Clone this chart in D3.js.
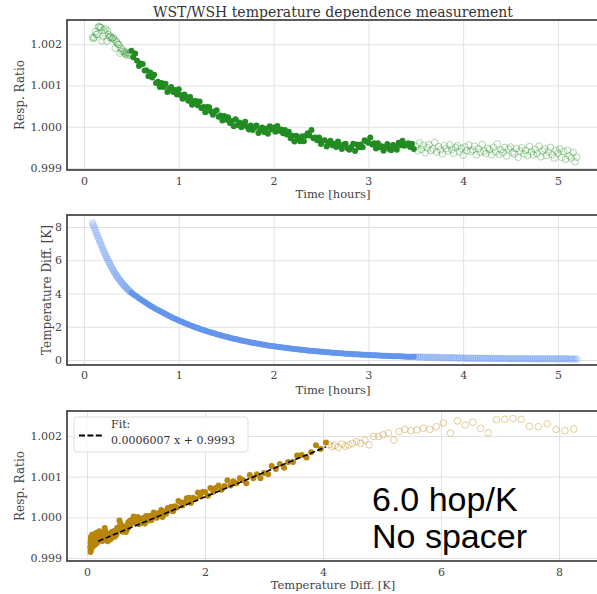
<!DOCTYPE html>
<html>
<head>
<meta charset="utf-8">
<script src="https://cdn.jsdelivr.net/npm/d3@7"></script>
<style>
  body { margin: 0; background: #fff; }
  svg { display: block; }
  text { font-family: "DejaVu Serif", serif; }
</style>
</head>
<body>
<script>

// ---- data ----
// sample times [hours]
var timeHours = [
  0.09,0.10,0.11,0.12,0.13,0.14,0.15,0.16,0.17,0.18,0.19,
  0.20,0.21,0.22,0.23,0.24,0.25,0.26,0.27,0.28,0.29,
  0.30,0.31,0.32,0.33,0.34,0.35,0.36,0.37,0.38,0.39,
  0.40,0.41,0.42,0.43,0.44,0.45,0.46,0.47,0.48,0.49,
  0.50,0.52,0.54,0.56,0.58,0.60,0.62,0.64,0.66,0.68,0.70,0.72,0.74,0.76,0.78,0.80,0.82,0.84,0.86,0.88,0.90,0.92,0.94,0.96,0.98,
  1.00,1.02,1.04,1.06,1.08,1.10,1.12,1.14,1.16,1.18,1.20,1.22,1.24,1.26,1.28,1.30,1.32,1.34,1.36,1.38,1.40,1.42,1.44,1.46,1.48,
  1.50,1.52,1.54,1.56,1.58,1.60,1.62,1.64,1.66,1.68,1.70,1.72,1.74,1.76,1.78,1.80,1.82,1.84,1.86,1.88,1.90,1.92,1.94,1.96,1.98,
  2.00,2.02,2.04,2.06,2.08,2.10,2.12,2.14,2.16,2.18,2.20,2.22,2.24,2.26,2.28,2.30,2.32,2.34,2.36,2.38,2.40,2.42,2.44,2.46,2.48,
  2.50,2.52,2.54,2.56,2.58,2.60,2.62,2.64,2.66,2.68,2.70,2.72,2.74,2.76,2.78,2.80,2.82,2.84,2.86,2.88,2.90,2.92,2.94,2.96,2.98,
  3.00,3.02,3.04,3.06,3.08,3.10,3.12,3.14,3.16,3.18,3.20,3.22,3.24,3.26,3.28,3.30,3.32,3.34,3.36,3.38,3.40,3.42,3.44,3.46,3.48,
  3.50,3.52,3.54,3.56,3.58,3.60,3.62,3.64,3.66,3.68,3.70,3.72,3.74,3.76,3.78,3.80,3.82,3.84,3.86,3.88,3.90,3.92,3.94,3.96,3.98,
  4.00,4.02,4.04,4.06,4.08,4.10,4.12,4.14,4.16,4.18,4.20,4.22,4.24,4.26,4.28,4.30,4.32,4.34,4.36,4.38,4.40,4.42,4.44,4.46,4.48,
  4.50,4.52,4.54,4.56,4.58,4.60,4.62,4.64,4.66,4.68,4.70,4.72,4.74,4.76,4.78,4.80,4.82,4.84,4.86,4.88,4.90,4.92,4.94,4.96,4.98,
  5.00,5.02,5.04,5.06,5.08,5.10,5.12,5.14,5.16,5.18,5.20
];

// WST/WSH response ratio at each sample
var respRatio = [
  1.00217,1.00213,1.00216,1.00230,1.00223,1.00224,1.00241,1.00243,1.00241,1.00240,1.00208,
  1.00219,1.00234,1.00227,1.00237,1.00207,1.00232,1.00223,1.00216,1.00219,1.00215,
  1.00213,1.00216,1.00211,1.00190,1.00207,1.00203,1.00199,1.00199,1.00178,1.00190,
  1.00182,1.00186,1.00182,1.00178,1.00175,1.00180,1.00172,1.00177,1.00174,1.00179,
  1.00184,1.00168,1.00177,1.00160,1.00147,1.00153,1.00152,1.00136,1.00136,1.00122,1.00131,1.00119,1.00126,1.00106,1.00109,1.00096,1.00106,1.00096,1.00104,1.00084,1.00092,1.00096,1.00084,1.00089,1.00078,
  1.00091,1.00077,1.00068,1.00078,1.00072,1.00063,1.00072,1.00053,1.00062,1.00062,1.00052,1.00061,1.00045,1.00048,1.00035,1.00048,1.00047,1.00037,1.00029,1.00037,1.00040,1.00024,1.00027,1.00015,1.00026,
  1.00017,1.00023,1.00009,1.00014,1.00001,1.00018,1.00004,1.00010,0.99999,1.00005,1.00012,1.00000,0.99993,1.00003,0.99992,0.99998,1.00003,0.99985,0.99992,0.99998,0.99987,0.99995,0.99983,1.00001,0.99993,
  0.99998,0.99988,1.00002,0.99990,0.99993,0.99984,0.99992,0.99981,0.99988,0.99972,0.99978,0.99964,0.99978,0.99971,0.99965,0.99977,0.99965,0.99978,0.99984,0.99979,0.99992,0.99972,0.99974,0.99967,0.99974,
  0.99958,0.99966,0.99967,0.99952,0.99960,0.99966,0.99955,0.99959,0.99951,0.99964,0.99954,0.99946,0.99957,0.99959,0.99948,0.99944,0.99951,0.99959,0.99941,0.99957,0.99950,0.99957,0.99950,0.99967,0.99964,
  0.99961,0.99974,0.99957,0.99960,0.99947,0.99960,0.99950,0.99953,0.99942,0.99951,0.99958,0.99946,0.99943,0.99956,0.99953,0.99944,0.99961,0.99955,0.99966,0.99954,0.99957,0.99960,0.99951,0.99959,0.99946,
  0.99953,0.99942,0.99961,0.99945,0.99955,0.99937,0.99949,0.99957,0.99942,0.99946,0.99962,0.99939,0.99952,0.99944,0.99934,0.99954,0.99947,0.99941,0.99956,0.99945,0.99936,0.99950,0.99954,0.99939,0.99948,
  0.99931,0.99951,0.99942,0.99956,0.99940,0.99944,0.99953,0.99932,0.99947,0.99938,0.99957,0.99941,0.99935,0.99948,0.99944,0.99932,0.99950,0.99939,0.99958,0.99933,0.99944,0.99937,0.99950,0.99929,0.99946,
  0.99951,0.99938,0.99934,0.99947,0.99926,0.99941,0.99949,0.99934,0.99943,0.99930,0.99952,0.99939,0.99932,0.99945,0.99935,0.99953,0.99927,0.99941,0.99946,0.99930,0.99939,0.99950,0.99932,0.99924,0.99942,
  0.99936,0.99946,0.99926,0.99940,0.99921,0.99943,0.99929,0.99924,0.99938,0.99915,0.99926
];

// temperature difference [K] at each sample
var tempDiffK = [
  8.25,8.10,7.95,7.80,7.65,7.50,7.36,7.22,7.08,6.94,6.80,
  6.67,6.54,6.41,6.28,6.16,6.04,5.92,5.81,5.70,5.59,
  5.49,5.39,5.29,5.20,5.11,5.02,4.94,4.86,4.78,4.71,
  4.64,4.57,4.50,4.44,4.38,4.32,4.26,4.20,4.15,4.10,
  4.05,3.96,3.88,3.80,3.72,3.64,3.56,3.49,3.41,3.34,3.27,3.20,3.13,3.07,3.00,2.94,2.88,2.82,2.76,2.70,2.64,2.59,2.53,2.48,2.43,
  2.38,2.33,2.28,2.23,2.18,2.14,2.09,2.05,2.00,1.96,1.92,1.88,1.84,1.80,1.76,1.73,1.69,1.66,1.62,1.59,1.55,1.52,1.49,1.46,1.43,
  1.40,1.37,1.34,1.31,1.28,1.26,1.23,1.21,1.18,1.16,1.13,1.11,1.09,1.06,1.04,1.02,1.00,0.98,0.96,0.94,0.92,0.90,0.88,0.86,0.84,
  0.83,0.81,0.79,0.78,0.76,0.75,0.73,0.72,0.70,0.69,0.68,0.66,0.65,0.64,0.62,0.61,0.60,0.59,0.57,0.56,0.55,0.54,0.53,0.52,0.51,
  0.50,0.49,0.48,0.47,0.46,0.45,0.44,0.43,0.42,0.42,0.41,0.40,0.39,0.38,0.38,0.37,0.36,0.35,0.35,0.34,0.33,0.33,0.32,0.31,0.31,
  0.30,0.30,0.29,0.28,0.28,0.27,0.27,0.26,0.26,0.25,0.25,0.24,0.24,0.23,0.23,0.22,0.22,0.22,0.21,0.21,0.20,0.20,0.20,0.19,0.19,
  0.19,0.18,0.18,0.18,0.17,0.17,0.17,0.16,0.16,0.16,0.16,0.15,0.15,0.15,0.14,0.14,0.14,0.14,0.13,0.13,0.13,0.13,0.12,0.12,0.12,
  0.12,0.12,0.11,0.11,0.11,0.11,0.11,0.11,0.10,0.10,0.10,0.10,0.10,0.10,0.10,0.09,0.09,0.09,0.09,0.09,0.09,0.09,0.09,0.09,0.08,
  0.08,0.08,0.08,0.08,0.08,0.08,0.08,0.08,0.08,0.08,0.08,0.07,0.07,0.07,0.07,0.07,0.07,0.07,0.07,0.07,0.07,0.07,0.07,0.07,0.07,
  0.07,0.07,0.07,0.07,0.07,0.07,0.06,0.06,0.06,0.06,0.06
];

// time window whose points were fitted (solid markers)
var fitWindow = [0.5, 3.5];
var fitSlope = 0.0006007,
    fitIntercept = 0.9993;

// tick labels
var timeTicks = [0, 1, 2, 3, 4, 5];
var ratioTicks = [0.999, 1.000, 1.001, 1.002];
var tempTicks = [0, 2, 4, 6, 8];

// ---- drawing ----
var width = 597,
    height = 594;

var svg = d3.select("body").append("svg")
    .attr("width", width)
    .attr("height", height);

var plotLeft = 67,
    plotRight = 601;

var points = timeHours.map(function (t, i) {
    return { t: t, ratio: respRatio[i], temp: tempDiffK[i],
             fit: t >= fitWindow[0] && t < fitWindow[1] };
});

function drawPanel(p) {
    var x = d3.scaleLinear().domain(p.xDomain).range([plotLeft, plotRight]);
    var y = d3.scaleLinear().domain(p.yDomain).range([p.bottom, p.top]);
    var h = p.bottom - p.top;
    var g = svg.append("g");

    // grid + tick labels
    var gx = g.append("g")
        .attr("transform", "translate(0," + p.bottom + ")")
        .call(d3.axisBottom(x).tickValues(p.xTicks).tickFormat(d3.format("d"))
              .tickSize(-h).tickPadding(p.xPad));
    var gy = g.append("g")
        .attr("transform", "translate(" + plotLeft + ",0)")
        .call(d3.axisLeft(y).tickValues(p.yTicks).tickFormat(p.yFormat)
              .tickSize(-(plotRight - plotLeft)).tickPadding(5));
    [gx, gy].forEach(function (a) {
        a.select(".domain").remove();
        a.selectAll(".tick line").attr("stroke", "#e2e2e2").attr("stroke-width", 1);
        a.selectAll(".tick text")
            .style("fill", "#444")
            .style("font-family", "'DejaVu Serif', serif")
            .style("font-size", "11px");
    });

    var solid = p.solid || function (d) { return d.fit; };

    // faded (not fitted) markers first
    g.append("g").selectAll("circle")
        .data(points.filter(function (d) { return !solid(d); }))
        .enter().append("circle")
        .attr("cx", function (d) { return x(d[p.xKey]); })
        .attr("cy", function (d) { return y(d[p.yKey]); })
        .attr("r", p.r + 0.3)
        .style("fill", p.color)
        .style("fill-opacity", p.fadeFill)
        .style("stroke", p.color)
        .style("stroke-opacity", p.fadeOpacity)
        .style("stroke-width", 0.9);

    g.append("g").selectAll("circle")
        .data(points.filter(solid))
        .enter().append("circle")
        .attr("cx", function (d) { return x(d[p.xKey]); })
        .attr("cy", function (d) { return y(d[p.yKey]); })
        .attr("r", p.r)
        .style("fill", p.color);

    // frame
    g.append("rect")
        .attr("x", plotLeft).attr("y", p.top)
        .attr("width", plotRight - plotLeft).attr("height", h)
        .style("fill", "none")
        .style("stroke", "#333")
        .style("stroke-width", 1.6);

    // labels
    g.append("text")
        .attr("x", 333).attr("y", p.xLabelY)
        .attr("text-anchor", "middle")
        .style("font-size", "11.5px").style("fill", "#444")
        .text(p.xLabel);
    g.append("text")
        .attr("transform", "translate(" + p.yLabelX + "," + (p.top + p.bottom) / 2 + ") rotate(-90)")
        .attr("text-anchor", "middle")
        .attr("dy", "0.35em")
        .style("font-size", "12px").style("fill", "#444")
        .text(p.yLabel);

    return { x: x, y: y, g: g };
}

// title
svg.append("text")
    .attr("x", 333).attr("y", 16.5)
    .attr("text-anchor", "middle")
    .style("font-size", "14px").style("fill", "#333")
    .text("WST/WSH temperature dependence measurement");

drawPanel({
    top: 20, bottom: 170, xDomain: [-0.179, 5.454], yDomain: [0.998952, 1.002584],
    xTicks: timeTicks, yTicks: ratioTicks, yFormat: d3.format(".3f"), xPad: 7,
    xKey: "t", yKey: "ratio", color: "#228b22", fadeOpacity: 0.4, fadeFill: 0, r: 3,
    xLabel: "Time [hours]", xLabelY: 197.5, yLabel: "Resp. Ratio", yLabelX: 20
});

drawPanel({
    top: 215, bottom: 365, xDomain: [-0.179, 5.454], yDomain: [-0.3, 8.72],
    xTicks: timeTicks, yTicks: tempTicks, yFormat: d3.format("d"), xPad: 6,
    xKey: "t", yKey: "temp", color: "#6495ed", fadeOpacity: 0.3, fadeFill: 0.18, r: 3,
    xLabel: "Time [hours]", xLabelY: 393.5, yLabel: "Temperature Diff. [K]", yLabelX: 47
});

// bottom panel: only the early, hot part stays faded
var bottom = drawPanel({
    top: 411, bottom: 561, xDomain: [-0.339, 8.712], yDomain: [0.998926, 1.002615],
    xTicks: tempTicks, yTicks: ratioTicks, yFormat: d3.format(".3f"), xPad: 7,
    xKey: "temp", yKey: "ratio", color: "#b8860b", fadeOpacity: 0.45, fadeFill: 0, r: 3,
    solid: function (d) { return d.t >= fitWindow[0]; },
    xLabel: "Temperature Diff. [K]", xLabelY: 589, yLabel: "Resp. Ratio", yLabelX: 20
});

// fit line over the fitted temperature range
var fitRange = d3.extent(points.filter(function (d) { return d.fit; }), function (d) { return d.temp; });
var fitLine = d3.line()
    .x(function (d) { return bottom.x(d); })
    .y(function (d) { return bottom.y(fitSlope * d + fitIntercept); });

bottom.g.append("path")
    .datum(fitRange)
    .attr("d", fitLine)
    .style("fill", "none")
    .style("stroke", "#000")
    .style("stroke-width", 1.6)
    .style("stroke-dasharray", "5.5,2.4");

// legend
var legend = svg.append("g");
legend.append("rect")
    .attr("x", 74).attr("y", 417).attr("width", 174).attr("height", 35)
    .attr("rx", 3)
    .style("fill", "#fff").style("fill-opacity", 0.85)
    .style("stroke", "#ddd").style("stroke-width", 1);
legend.append("line")
    .attr("x1", 79).attr("x2", 103).attr("y1", 435.5).attr("y2", 435.5)
    .style("stroke", "#000").style("stroke-width", 1.8)
    .style("stroke-dasharray", "6,2.4");
legend.append("text")
    .attr("x", 111).attr("y", 428)
    .style("font-size", "11px").style("fill", "#333")
    .text("Fit:");
legend.append("text")
    .attr("x", 111).attr("y", 444)
    .style("font-size", "11px").style("fill", "#333")
    .text("0.0006007 x + 0.9993");

// annotation
var note = svg.append("g")
    .style("font-size", "34px")
    .style("fill", "#000");
note.append("text").attr("x", 372).attr("y", 510.5)
    .style("font-family", "'Liberation Sans', Arial, sans-serif").text("6.0 hop/K");
note.append("text").attr("x", 372).attr("y", 547.5)
    .style("font-family", "'Liberation Sans', Arial, sans-serif").text("No spacer");

</script>
</body>
</html>
